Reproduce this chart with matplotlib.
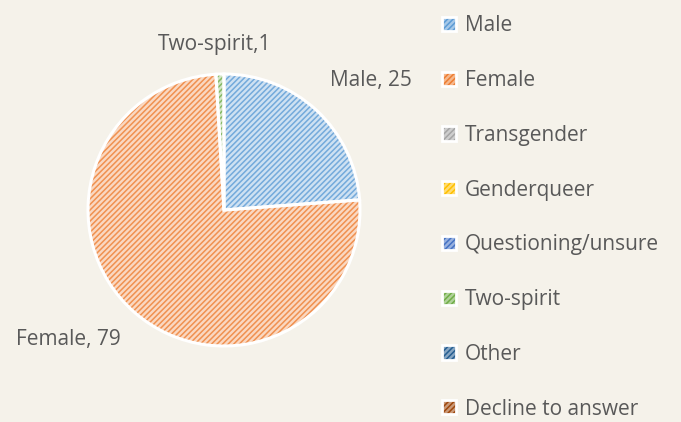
import matplotlib
matplotlib.use("Agg")
import matplotlib.pyplot as plt
from matplotlib.patches import Patch
from matplotlib.legend_handler import HandlerTuple
import numpy as np

# data
categories = ["Male", "Female", "Transgender", "Genderqueer",
              "Questioning/unsure", "Two-spirit", "Other", "Decline to answer"]
counts = [25, 79, 0, 0, 0, 1, 0, 0]
colors = ["#5B9BD5", "#ED7D31", "#A5A5A5", "#FFC000",
          "#4472C4", "#70AD47", "#255E91", "#9E480E"]

bg = "#F5F2EA"
text_col = "#595959"
plt.rcParams["font.family"] = ["Open Sans", "DejaVu Sans"]
plt.rcParams["hatch.linewidth"] = 1.1


def tint(c, amt=0.55):
    rgb = np.array(matplotlib.colors.to_rgb(c))
    return tuple(rgb + (1 - rgb) * amt)


fig = plt.figure(figsize=(6.81, 4.22), dpi=100, facecolor=bg)
ax = fig.add_axes([88 / 681, 76 / 422, 272 / 681, 272 / 422])
ax.set_facecolor(bg)

# only draw slices that have a value
idx = [i for i, v in enumerate(counts) if v > 0]
vals = [counts[i] for i in idx]
wedges, _ = ax.pie(vals, colors=[tint(colors[i], 0.7) for i in idx],
                   startangle=90, counterclock=False, radius=1,
                   wedgeprops=dict(linewidth=0))
for w, i in zip(wedges, idx):
    w.set_hatch("//////")
    w.set_edgecolor(tint(colors[i], 0.15))
    w.set_linewidth(0)
# white borders on top
ax.pie(vals, colors=["none"] * len(vals), startangle=90, counterclock=False,
       radius=1, wedgeprops=dict(linewidth=2.2, edgecolor="white", fill=False))
ax.set_xlim(-1, 1)
ax.set_ylim(-1, 1)
ax.set_aspect("equal")
ax.axis("off")

# data labels
label_pos = {"Male": (1.08, 0.955), "Female": (-1.145, -0.955),
             "Two-spirit": (-0.07, 1.215)}
for i in idx:
    name = categories[i]
    sep = "," if name == "Two-spirit" else ", "
    x, y = label_pos[name]
    ax.text(x, y, name + sep + str(counts[i]), ha="center", va="center",
            fontsize=15, color=text_col, clip_on=False)

# legend: hatched square + white frame
handles = []
for c in colors:
    fill = Patch(facecolor=tint(c, 0.45), edgecolor=c,
                 hatch="//////", linewidth=0)
    frame = Patch(facecolor="none", edgecolor="white", linewidth=2.0)
    handles.append((fill, frame))
leg = fig.legend(handles, categories, loc="upper left",
                 bbox_to_anchor=(434 / 681, 1 - 7 / 422), frameon=False,
                 fontsize=15, labelcolor=text_col, handlelength=0.68,
                 handleheight=0.68, handletextpad=0.4, labelspacing=1.62,
                 borderaxespad=0,
                 handler_map={tuple: HandlerTuple(ndivide=1, pad=0)})

fig.savefig("out.png", dpi=100, facecolor=bg)
